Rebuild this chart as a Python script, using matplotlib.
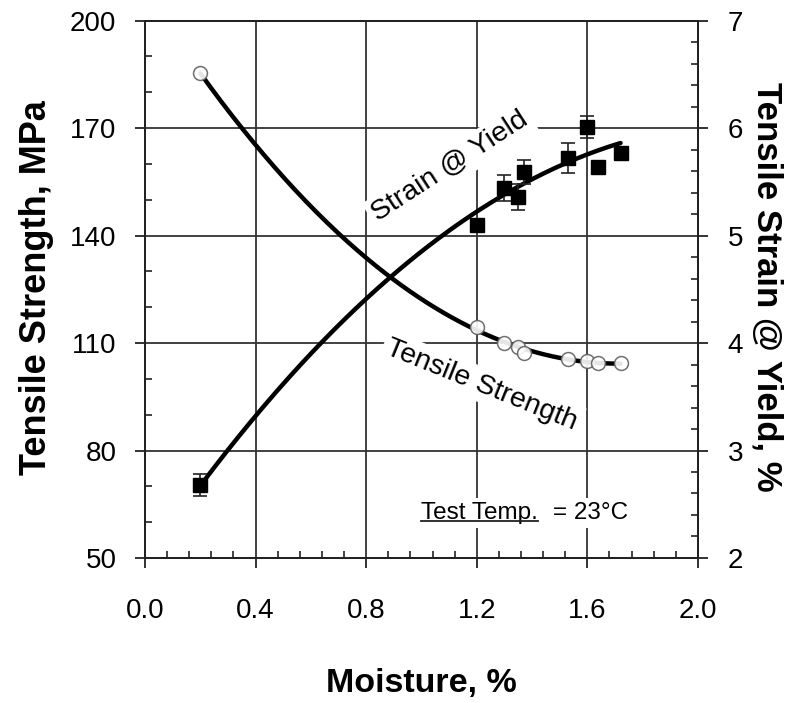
#!/usr/bin/env python3
"""Tensile strength and strain at yield vs. moisture content."""

import matplotlib

matplotlib.use("Agg")
import matplotlib.pyplot as plt
import numpy as np
from matplotlib.ticker import MultipleLocator

plt.rcParams["font.family"] = ["Liberation Sans", "DejaVu Sans"]

# tensile strength (open circles, left axis)
strength_moisture = [0.20, 1.20, 1.30, 1.35, 1.37, 1.53, 1.60, 1.64, 1.72]
strength_mpa = [185.3, 114.6, 110.1, 108.9, 107.2, 105.6, 104.9, 104.4, 104.4]

# strain at yield (filled squares, right axis)
strain_moisture = [0.20, 1.20, 1.30, 1.35, 1.37, 1.53, 1.60, 1.64, 1.72]
strain_pct = [2.68, 5.10, 5.44, 5.36, 5.59, 5.72, 6.01, 5.64, 5.77]
strain_err = [0.10, 0.04, 0.12, 0.12, 0.11, 0.14, 0.10, 0.0, 0.0]

x_ticks = [0.0, 0.4, 0.8, 1.2, 1.6, 2.0]
left_ticks = [50, 80, 110, 140, 170, 200]
right_ticks = [2, 3, 4, 5, 6, 7]

GRID = "#333333"

fig = plt.figure(figsize=(7.9, 7.03), dpi=100)
ax = fig.add_axes([0.1835, 0.2063, 0.7000, 0.7643])
ax2 = ax.twinx()

# gridlines (inner only)
for xv in x_ticks[1:-1]:
    ax.axvline(xv, color=GRID, lw=1.3, zorder=1)
for yv in left_ticks[1:-1]:
    ax.axhline(yv, color=GRID, lw=1.3, zorder=1)

# quadratic trend lines through the measured points
xs = np.linspace(min(strength_moisture), max(strength_moisture), 200)
cs = np.polyfit(strength_moisture, strength_mpa, 2)
ax.plot(xs, np.polyval(cs, xs), color="black", lw=3.2, zorder=4, solid_capstyle="round")
ax.plot(strength_moisture, strength_mpa, "o", ms=10, mfc="white", mec="#606060",
        mew=1.1, zorder=5, alpha=0.9)

cy = np.polyfit(strain_moisture, strain_pct, 2)
ax2.plot(xs, np.polyval(cy, xs), color="black", lw=3.2, zorder=4, solid_capstyle="round")
ax2.errorbar(strain_moisture, strain_pct, yerr=strain_err, fmt="s", ms=9.5,
             color="black", ecolor="#222222", elinewidth=1.2, capsize=5, capthick=1.2,
             zorder=5)

ax.set_xlim(0.0, 2.0)
ax.set_ylim(50, 200)
ax2.set_ylim(2, 7)
ax.set_xticks(x_ticks)
ax.set_yticks(left_ticks)
ax2.set_yticks(right_ticks)
ax.xaxis.set_minor_locator(MultipleLocator(0.08))
ax.yaxis.set_minor_locator(MultipleLocator(10))
ax2.yaxis.set_minor_locator(MultipleLocator(0.2))
ax.set_xticklabels([f"{v:.1f}" for v in x_ticks])

for a in (ax, ax2):
    for s in a.spines.values():
        s.set_linewidth(1.4)
        s.set_color("#222222")
ax.tick_params(which="major", direction="out", length=7.5, width=1.3, labelsize=20,
               colors="#222222", labelcolor="black", top=False)
ax.tick_params(axis="x", which="major", pad=21)
ax.tick_params(axis="y", which="major", pad=13)
ax.tick_params(which="minor", direction="in", length=5, width=1.2, colors="#222222", top=False)
ax2.tick_params(which="major", direction="out", length=7.5, width=1.3, labelsize=20,
                pad=14, colors="#222222", labelcolor="black")
ax2.tick_params(which="minor", direction="in", length=5, width=1.2, colors="#222222")

ax.set_xlabel("Moisture, %", fontsize=24.5, fontweight="bold", va="center", ha="center")
ax.xaxis.set_label_coords(0.5, -0.2345)
ax.set_ylabel("Tensile Strength, MPa", fontsize=26, fontweight="bold",
              va="center", ha="center")
ax.yaxis.set_label_coords(-0.197, 0.5025)
ax2.set_ylabel("Tensile Strain @ Yield, %", fontsize=25, fontweight="bold",
               rotation=270, va="center", ha="center")
ax2.yaxis.set_label_coords(1.1248, 0.505)

box = dict(facecolor="white", edgecolor="none", pad=3)
ax.text(0.552, 0.728, "Strain @ Yield", transform=ax.transAxes, fontsize=20.5,
        rotation=33, ha="center", va="center", bbox=box, zorder=3)
ax.text(0.609, 0.322, "Tensile Strength", transform=ax.transAxes, fontsize=20.5,
        rotation=-22, ha="center", va="center", bbox=box, zorder=3)

base_y = 0.0726
t1 = ax.text(0.499, base_y, "Test Temp.", transform=ax.transAxes, fontsize=17.5,
             ha="left", va="baseline", bbox=box, zorder=3)
ax.text(0.737, base_y, "= 23°C", transform=ax.transAxes, fontsize=17.5,
        ha="left", va="baseline", bbox=box, zorder=3)
fig.canvas.draw()
bb = t1.get_window_extent().transformed(ax.transAxes.inverted())
ax.plot([bb.x0, bb.x1], [base_y - 0.004, base_y - 0.004], transform=ax.transAxes,
        color="#222222", lw=1.3, zorder=3.5)

fig.savefig("out.png", dpi=100)
